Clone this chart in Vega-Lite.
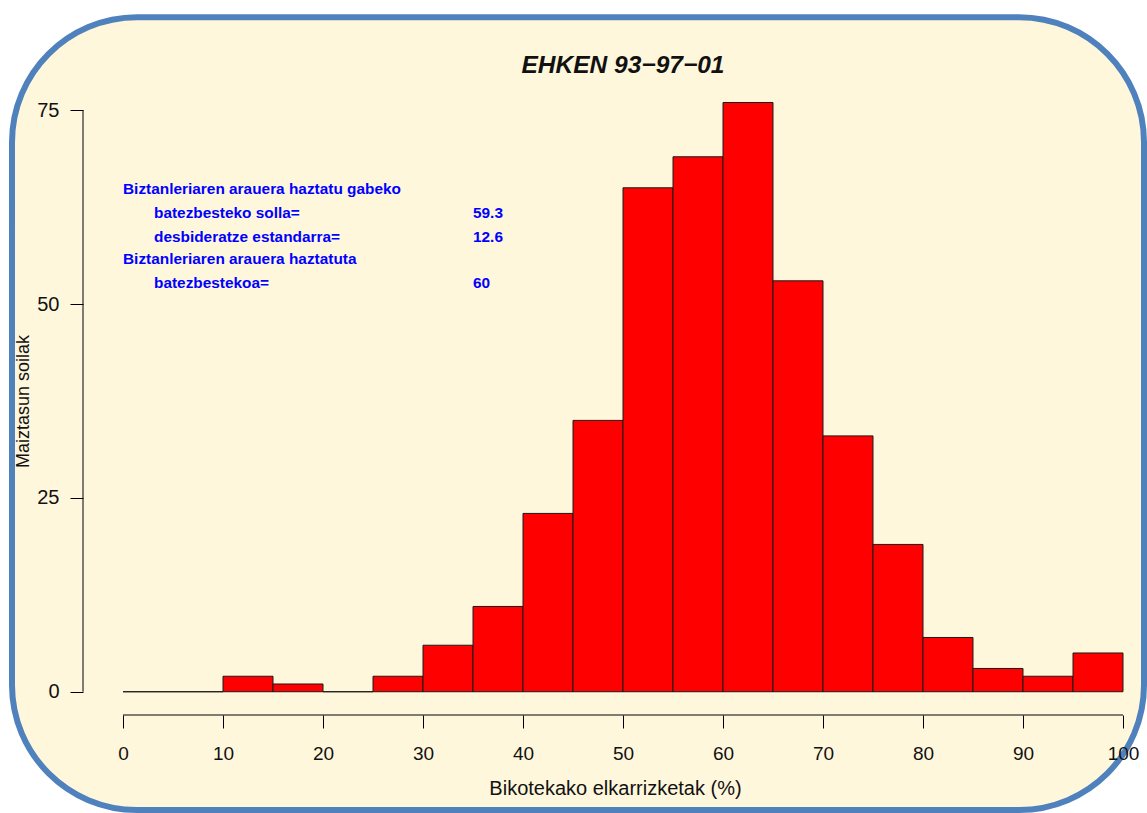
{
  "$schema": "https://vega.github.io/schema/vega-lite/v6.json",
  "width": 1064,
  "height": 628,
  "autosize": {"type": "none"},
  "padding": {"left": 83, "top": 87, "right": 0, "bottom": 98},
  "background": "#ffffff",
  "config": {
    "view": {"stroke": null},
    "font": "Liberation Sans"
  },
  "datasets": {
    "bins": [
      {"bin_start": 0, "bin_end": 5, "count": 0},
      {"bin_start": 5, "bin_end": 10, "count": 0},
      {"bin_start": 10, "bin_end": 15, "count": 2},
      {"bin_start": 15, "bin_end": 20, "count": 1},
      {"bin_start": 20, "bin_end": 25, "count": 0},
      {"bin_start": 25, "bin_end": 30, "count": 2},
      {"bin_start": 30, "bin_end": 35, "count": 6},
      {"bin_start": 35, "bin_end": 40, "count": 11},
      {"bin_start": 40, "bin_end": 45, "count": 23},
      {"bin_start": 45, "bin_end": 50, "count": 35},
      {"bin_start": 50, "bin_end": 55, "count": 65},
      {"bin_start": 55, "bin_end": 60, "count": 69},
      {"bin_start": 60, "bin_end": 65, "count": 76},
      {"bin_start": 65, "bin_end": 70, "count": 53},
      {"bin_start": 70, "bin_end": 75, "count": 33},
      {"bin_start": 75, "bin_end": 80, "count": 19},
      {"bin_start": 80, "bin_end": 85, "count": 7},
      {"bin_start": 85, "bin_end": 90, "count": 3},
      {"bin_start": 90, "bin_end": 95, "count": 2},
      {"bin_start": 95, "bin_end": 100, "count": 5}
    ],
    "single": [{}]
  },
  "layer": [
    {
      "data": {"name": "single"},
      "mark": {"type": "rect", "cornerRadius": 125, "fill": "#FFF7DC", "stroke": "#4F81BD", "strokeWidth": 6},
      "encoding": {
        "x": {"datum": -11.1, "type": "quantitative", "scale": {"domain": [-4, 102.4], "nice": false, "zero": false}},
        "x2": {"datum": 102.1},
        "y": {"datum": 87, "type": "quantitative", "scale": {"domain": [-3, 78], "nice": false, "zero": false}},
        "y2": {"datum": -15.25}
      }
    },
    {
      "data": {"name": "bins"},
      "mark": {"type": "rect", "fill": "#FF0000", "stroke": "#1a1a1a", "strokeWidth": 1},
      "encoding": {
        "x": {
          "field": "bin_start", "type": "quantitative",
          "scale": {"domain": [-4, 102.4], "nice": false, "zero": false},
          "axis": {
            "values": [0, 10, 20, 30, 40, 50, 60, 70, 80, 90, 100],
            "domain": false, "grid": false, "zindex": 1,
            "tickSize": 13, "tickColor": "#000000", "tickWidth": 1,
            "labelFontSize": 19, "labelColor": "#111111", "labelPadding": 16.6,
            "labelFlush": false, "labelOverlap": false,
            "title": "Bikotekako elkarrizketak (%)",
            "titleFontSize": 20, "titleFontWeight": "normal", "titleColor": "#111111", "titlePadding": 15
          }
        },
        "x2": {"field": "bin_end"},
        "y": {
          "field": "count", "type": "quantitative",
          "scale": {"domain": [-3, 78], "nice": false, "zero": false},
          "axis": {
            "values": [0, 25, 50, 75],
            "domain": false, "grid": false, "zindex": 1,
            "tickSize": 13, "tickColor": "#000000", "tickWidth": 1,
            "labelFontSize": 20, "labelColor": "#111111", "labelPadding": 11, "labelAngle": 0,
            "labelFlush": false, "labelOverlap": false,
            "title": "Maiztasun soilak",
            "titleFontSize": 18, "titleFontWeight": "normal", "titleColor": "#111111", "titlePadding": 4
          }
        },
        "y2": {"datum": 0}
      }
    },
    {
      "data": {"name": "single"},
      "mark": {"type": "rule", "color": "#000000", "strokeWidth": 1},
      "encoding": {
        "x": {"datum": 0, "type": "quantitative"},
        "x2": {"datum": 100},
        "y": {"datum": -3, "type": "quantitative"}
      }
    },
    {
      "data": {"name": "single"},
      "mark": {"type": "rule", "color": "#000000", "strokeWidth": 1},
      "encoding": {
        "x": {"datum": -4, "type": "quantitative"},
        "y": {"datum": 0, "type": "quantitative"},
        "y2": {"datum": 75}
      }
    },
    {
      "data": {"name": "single"},
      "mark": {
        "type": "text", "align": "center", "baseline": "alphabetic",
        "fontSize": 24.5, "fontStyle": "italic", "fontWeight": "bold", "color": "#111111",
        "text": "EHKEN 93−97−01"
      },
      "encoding": {
        "x": {"datum": 50, "type": "quantitative"},
        "y": {"datum": 79.8, "type": "quantitative"}
      }
    },
    {
      "data": {"name": "single"},
      "mark": {
        "type": "text", "align": "left", "baseline": "alphabetic",
        "fontSize": 15.4, "fontWeight": "bold", "color": "#0000FF",
        "text": "Biztanleriaren arauera haztatu gabeko"
      },
      "encoding": {
        "x": {"datum": 0, "type": "quantitative"},
        "y": {"datum": 64.2, "type": "quantitative"}
      }
    },
    {
      "data": {"name": "single"},
      "mark": {
        "type": "text", "align": "left", "baseline": "alphabetic",
        "fontSize": 15.4, "fontWeight": "bold", "color": "#0000FF", "lineHeight": 24,
        "text": ["batezbesteko solla=", "desbideratze estandarra="]
      },
      "encoding": {
        "x": {"datum": 3.1, "type": "quantitative"},
        "y": {"datum": 61.1, "type": "quantitative"}
      }
    },
    {
      "data": {"name": "single"},
      "mark": {
        "type": "text", "align": "left", "baseline": "alphabetic",
        "fontSize": 15.4, "fontWeight": "bold", "color": "#0000FF", "lineHeight": 24,
        "text": ["59.3", "12.6"]
      },
      "encoding": {
        "x": {"datum": 35, "type": "quantitative"},
        "y": {"datum": 61.1, "type": "quantitative"}
      }
    },
    {
      "data": {"name": "single"},
      "mark": {
        "type": "text", "align": "left", "baseline": "alphabetic",
        "fontSize": 15.4, "fontWeight": "bold", "color": "#0000FF",
        "text": "Biztanleriaren arauera haztatuta"
      },
      "encoding": {
        "x": {"datum": 0, "type": "quantitative"},
        "y": {"datum": 55.2, "type": "quantitative"}
      }
    },
    {
      "data": {"name": "single"},
      "mark": {
        "type": "text", "align": "left", "baseline": "alphabetic",
        "fontSize": 15.4, "fontWeight": "bold", "color": "#0000FF",
        "text": "batezbestekoa="
      },
      "encoding": {
        "x": {"datum": 3.1, "type": "quantitative"},
        "y": {"datum": 52.1, "type": "quantitative"}
      }
    },
    {
      "data": {"name": "single"},
      "mark": {
        "type": "text", "align": "left", "baseline": "alphabetic",
        "fontSize": 15.4, "fontWeight": "bold", "color": "#0000FF",
        "text": "60"
      },
      "encoding": {
        "x": {"datum": 35, "type": "quantitative"},
        "y": {"datum": 52.1, "type": "quantitative"}
      }
    }
  ]
}
